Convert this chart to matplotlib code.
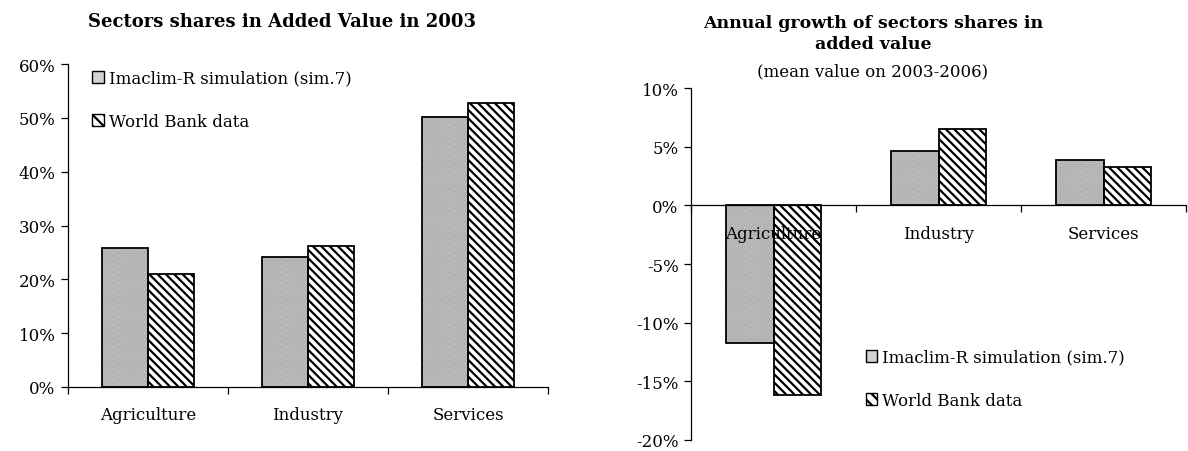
import matplotlib
matplotlib.use("Agg")
import matplotlib.pyplot as plt
import numpy as np
from matplotlib.ticker import FuncFormatter, FixedLocator
from matplotlib.patches import Patch

plt.rcParams['font.family'] = ['DejaVu Serif']
plt.rcParams['hatch.linewidth'] = 1.6

categories = ["Agriculture", "Industry", "Services"]
series_names = ["Imaclim-R simulation (sim.7)", "World Bank data"]

share_sim = [25.8, 24.2, 50.2]
share_wb = [21.0, 26.2, 52.8]

growth_sim = [-11.7, 4.6, 3.9]
growth_wb = [-16.2, 6.5, 3.3]

title_left = "Sectors shares in Added Value in 2003"
title_right = "Annual growth of sectors shares in\nadded value"
subtitle_right = "(mean value on 2003-2006)"

fig = plt.figure(figsize=(11.88, 4.52), dpi=100)
axL = fig.add_axes([68/1188, 64/452, 480/1188, 323/452])
axR = fig.add_axes([691/1188, 11/452, 495/1188, 352/452])

bw = 1/3.5
x = np.arange(len(categories))
fs = 12
SIM_FACE = '#d2d2d2'
SIM_HATCH = '#a0a0a0'
STRIPES = '\\\\\\\\'


def draw_bars(ax, sim, wb):
    ax.bar(x - bw/2, sim, bw, facecolor=SIM_FACE, edgecolor=SIM_HATCH,
           hatch='......', linewidth=0, zorder=0.5)
    ax.bar(x - bw/2, sim, bw, facecolor='none', edgecolor='black',
           linewidth=1.3, zorder=1)
    ax.bar(x + bw/2, wb, bw, facecolor='white', edgecolor='black',
           hatch=STRIPES, linewidth=0, zorder=0.5)
    ax.bar(x + bw/2, wb, bw, facecolor='none', edgecolor='black',
           linewidth=1.3, zorder=1)


def style(ax):
    ax.set_axisbelow(False)
    for s in ['top', 'right']:
        ax.spines[s].set_visible(False)
    for s in ['left', 'bottom']:
        ax.spines[s].set_linewidth(0.9)
    ax.set_xlim(-0.5, len(categories) - 0.5)
    ax.set_xticks(x)
    ax.set_xticklabels(categories)
    ax.xaxis.set_minor_locator(FixedLocator(np.arange(-0.5, len(categories), 1.0)))
    ax.tick_params(axis='x', which='major', length=0, pad=14, labelsize=fs)
    ax.tick_params(axis='x', which='minor', length=5, width=0.9, direction='out')
    ax.tick_params(axis='y', length=5, width=0.9, direction='out', labelsize=fs, pad=4)
    ax.yaxis.set_major_formatter(FuncFormatter(lambda v, p: f"{v:.0f}%"))


def handles():
    return [Patch(facecolor=SIM_FACE, edgecolor='black', linewidth=1.0),
            Patch(facecolor='white', edgecolor='black', hatch='\\\\\\', linewidth=1.0)]


# Left chart
draw_bars(axL, share_sim, share_wb)
axL.set_ylim(0, 60)
axL.set_yticks(np.arange(0, 61, 10))
style(axL)

# Right chart
draw_bars(axR, growth_sim, growth_wb)
axR.set_ylim(-20, 10)
axR.set_yticks(np.arange(-20, 11, 5))
axR.spines['bottom'].set_position(('data', 0))
style(axR)

# Legends
axL.legend(handles(), series_names, loc='upper left', bbox_to_anchor=(0.03, 1.013),
           frameon=False, fontsize=fs, handlelength=0.7, handleheight=0.7,
           handletextpad=0.3, labelspacing=1.55, borderaxespad=0.2)
axR.legend(handles(), series_names, loc='upper left',
           bbox_to_anchor=((859-691)/495, (452-343-11)/352),
           frameon=False, fontsize=fs, handlelength=0.7, handleheight=0.7,
           handletextpad=0.3, labelspacing=1.55, borderaxespad=0.0)

# Titles
fig.text(282/1188, 1 - 22/452, title_left, ha='center', va='center',
         fontsize=13, fontweight='bold')
fig.text(873/1188, 1 - 34/452, title_right, ha='center', va='center',
         fontsize=12.5, fontweight='bold', linespacing=1.3)
fig.text(873/1188, 1 - 72/452, subtitle_right, ha='center', va='center',
         fontsize=fs)

fig.savefig("out.png", dpi=100)
